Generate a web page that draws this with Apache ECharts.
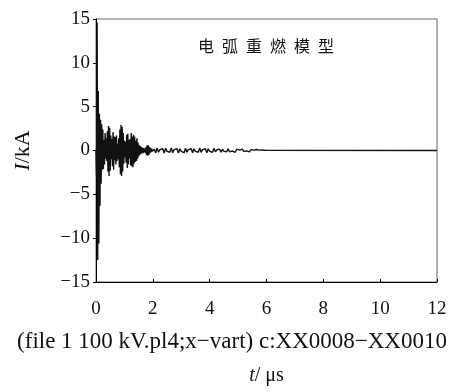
<!DOCTYPE html>
<html>
<head>
<meta charset="utf-8">
<script src="https://cdn.jsdelivr.net/npm/echarts@6/dist/echarts.min.js"></script>
<style>
  html, body { margin: 0; padding: 0; background: #fff; }
  #chart { width: 464px; height: 392px; }
</style>
</head>
<body>
<div id="chart"></div>
<script>
// arc re-ignition current
// burst part: 0 .. 2 us, one sample every 0.02 us
const burstStep = 0.02;
const burstCurrent = [
  0, -3.0, 14.6, -12.5, 6.8, -10.6, 4.2, -6.3, 3.5, -3.8,
  3.0, -2.2, 2.4, -2.1, 1.2, -1.6, 2.0, -0.9, 1.4,
  -1.2, 2.2, -2.4, 2.8, -2.9, 2.6, -2.3, 1.7, -1.0, 1.3,
  -1.8, 2.1, -2.2, 1.6, -1.1, 1.5, -1.6, 1.7, -1.2, 0.8,
  -1.0, 1.4, -1.9, 2.4, -2.7, 2.9, -2.9, 2.7, -2.4, 2.0,
  -1.5, 1.1, -0.8, 1.0, -1.4, 1.8, -2.0, 1.9, -1.6, 1.2,
  -0.9, 1.3, -1.7, 2.0, -1.8, 1.6, -1.9, 1.8, -1.5, 1.6,
  -1.3, 1.1, -1.2, 1.4, -1.0, 0.9, -0.7, 0.6, -0.5, 0.5,
  -0.4, 0.4, -0.3, 0.3, -0.3, 0.3, -0.2, 0.2, -0.3, 0.4,
  -0.5, 0.6, -0.6, 0.6, -0.5, 0.4, -0.3, 0.3, -0.2, 0.2,
  -0.1
];
// tail: 2.05 .. 6 us, one sample every 0.05 us
const tailStart = 2.05;
const tailStep = 0.05;
const tailCurrent = [
  0.15, -0.25, 0.3, -0.2, 0.1, -0.1, 0.2, -0.3, 0.25, -0.1,
  0.1, -0.2, 0.3, -0.25, 0.1, -0.1, 0.2, -0.3, 0.2, -0.1,
  0.1, -0.25, 0.25, -0.2, 0.1, -0.1, 0.2, -0.25, 0.2, -0.1,
  0.1, -0.2, 0.3, -0.2, 0.1, -0.08, 0.2, -0.25, 0.2, -0.1,
  0.08, -0.2, 0.25, -0.15, 0.08, -0.08, 0.15, -0.2, 0.15, -0.08,
  0.08, -0.15, 0.2, -0.15, 0.06, -0.06, 0.15, -0.2, 0.15, -0.06,
  0.05, -0.12, 0.15, -0.1, 0.05, -0.05, 0.1, -0.15, 0.1, -0.05,
  0.04, -0.1, 0.12, -0.08, 0.04, -0.03, 0.06, -0.05, 0.03, 0
];
const endPoint = [12, 0];

const xTicks = [0, 2, 4, 6, 8, 10, 12];
const yTicks = [-15, -10, -5, 0, 5, 10, 15];

const points = [];
burstCurrent.forEach((v, i) => points.push([+(i * burstStep).toFixed(3), v]));
tailCurrent.forEach((v, i) => points.push([+(tailStart + i * tailStep).toFixed(3), v]));
points.push(endPoint);

const serif = '"Liberation Serif", "Times New Roman", serif';
const chart = echarts.init(document.getElementById('chart'));

chart.setOption({
  animation: false,
  grid: {
    left: 96, right: 27, top: 19, bottom: 110,
    show: true, borderColor: '#666', borderWidth: 1
  },
  xAxis: {
    type: 'value',
    min: xTicks[0], max: xTicks[xTicks.length - 1], interval: 2,
    axisLine: { onZero: false, lineStyle: { color: '#000', width: 1 } },
    axisTick: { inside: true, length: 3, lineStyle: { color: '#000' } },
    axisLabel: { color: '#111', fontFamily: serif, fontSize: 19, margin: 18 },
    splitLine: { show: false },
    name: '{i|t}/ μs',
    nameLocation: 'middle',
    nameGap: 84,
    nameTextStyle: {
      color: '#111', fontFamily: serif, fontSize: 20,
      rich: { i: { fontStyle: 'italic', fontFamily: serif, fontSize: 20, color: '#111' } }
    }
  },
  yAxis: {
    type: 'value',
    min: yTicks[0], max: yTicks[yTicks.length - 1], interval: 5,
    axisLine: { show: true, lineStyle: { color: '#000', width: 1 } },
    axisTick: { show: true, length: 3, lineStyle: { color: '#000' } },
    axisLabel: {
      color: '#111', fontFamily: serif, fontSize: 19, margin: 6,
      formatter: v => (v < 0 ? '\u2212' + Math.abs(v) : String(v))
    },
    splitLine: { show: false },
    name: '{i|I}/kA',
    nameLocation: 'middle',
    nameGap: 62,
    nameTextStyle: {
      color: '#111', fontFamily: serif, fontSize: 22,
      rich: { i: { fontStyle: 'italic', fontFamily: serif, fontSize: 22, color: '#111' } }
    }
  },
  graphic: [
    {
      type: 'text', left: 198, top: 38,
      style: {
        text: '电\u2002弧\u2002重\u2002燃\u2002模\u2002型',
        font: '16px "Noto Sans CJK SC"', fill: '#111'
      }
    },
    {
      type: 'text', left: 'center', top: 330,
      style: {
        text: '(file 1 100 kV.pl4;x\u2212vart) c:XX0008\u2212XX0010',
        font: '23px ' + serif, fill: '#111'
      }
    }
  ],
  series: [{
    type: 'line',
    data: points,
    showSymbol: false,
    symbol: 'none',
    lineStyle: { color: '#111', width: 1.4 },
    clip: true
  }]
});
</script>
</body>
</html>
